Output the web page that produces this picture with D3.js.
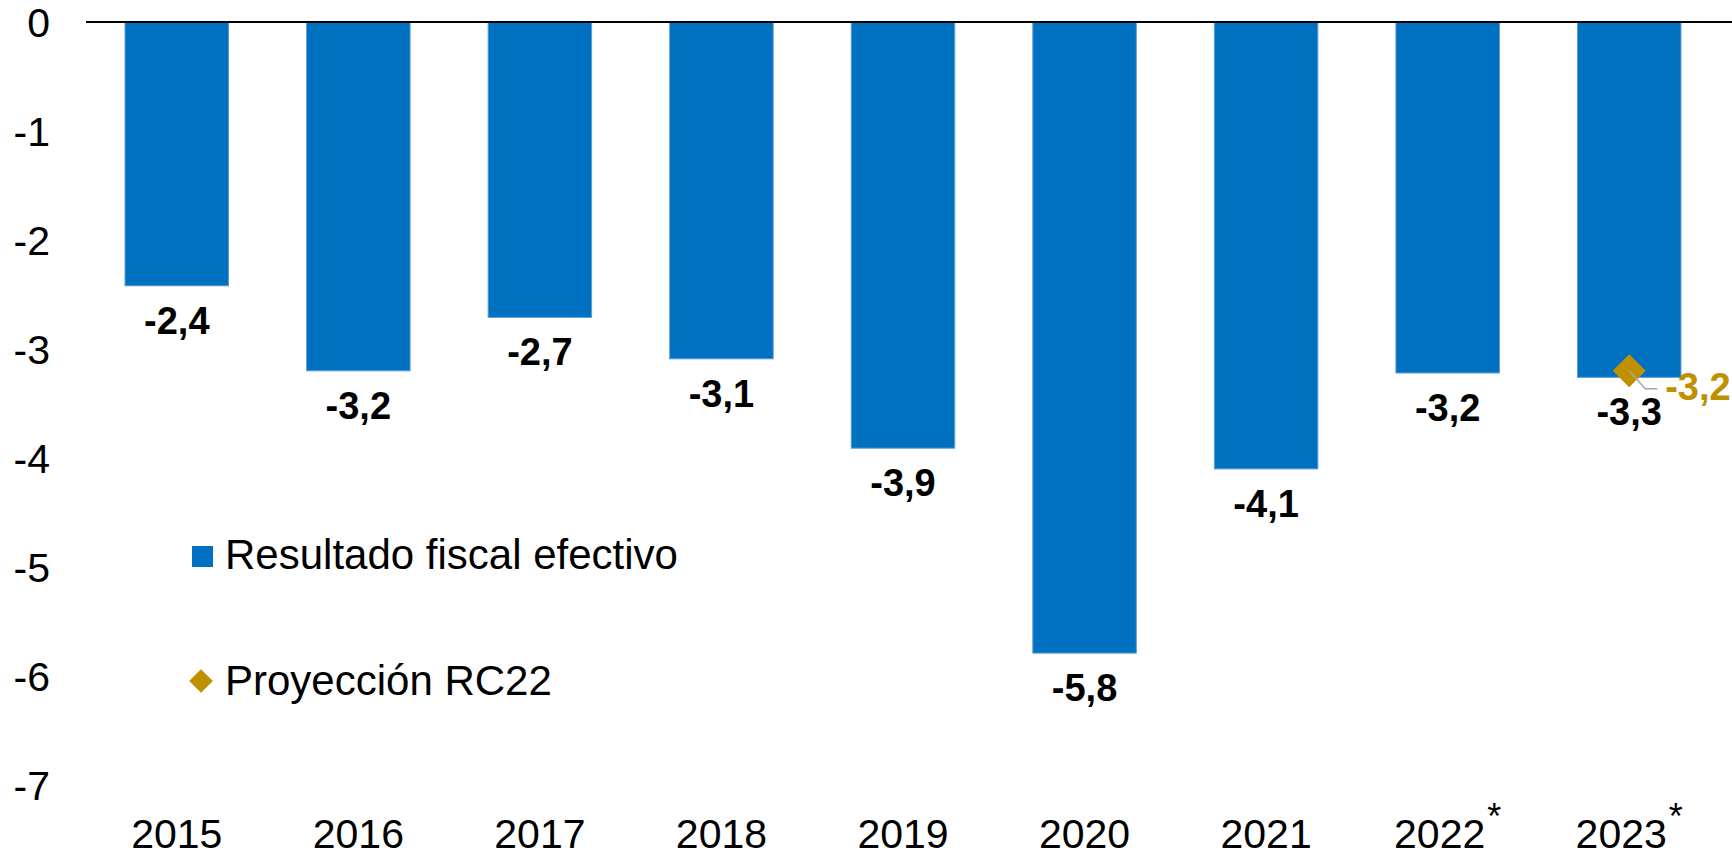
<!DOCTYPE html>
<html>
<head>
<meta charset="utf-8">
<script src="https://cdn.jsdelivr.net/npm/d3@7"></script>
<style>
	body { margin:0; background:#ffffff; }
	svg { display:block; font-family:'Liberation Sans', Arial, sans-serif; }
</style>
</head>
<body>
<div id="chart"></div>
<script>
	// Data
	var years = ['2015','2016','2017','2018','2019','2020','2021','2022','2023'];
	var yearNotes = ['','','','','','','','*','*'];
	var resultado = [-2.42,-3.20,-2.71,-3.09,-3.91,-5.79,-4.10,-3.22,-3.26];
	var proyeccionYears = ['2023'];
	var proyeccion = [-3.2];
	var yTicks = [0,-1,-2,-3,-4,-5,-6,-7];
	var legendLabels = ['Resultado fiscal efectivo','Proyección RC22'];

	var BLUE = '#0070C0';
	var GOLD = '#BF9000';

	var width = 1732;
	var height = 857;

	// comma as decimal separator
	var fmt = function(v){ return d3.format('.1f')(v).replace('\u2212','-').replace('.',','); };

	var svg = d3.select('#chart')
		.append('svg')
		.attr('width',width)
		.attr('height',height);

	// -----------------------------------------------------------------
	// Scales
	var x = d3.scaleBand()
		.domain(years)
		.range([86,1720])
		.paddingInner(0.43)
		.paddingOuter(0.215);

	var y = d3.scaleLinear()
		.domain([-7,0])
		.range([785,22]);

	// -----------------------------------------------------------------
	// Y axis (labels only)
	var yAxis = svg.append('g')
		.attr('class','yaxis')
		.attr('transform','translate(50,0)')
		.call(d3.axisLeft(y)
			.tickValues(yTicks)
			.tickSize(0)
			.tickPadding(0)
			.tickFormat(function(d){ return String(d); })
		);
	yAxis.select('.domain').remove();
	yAxis.selectAll('text')
		.attr('x',0)
		.attr('dy','0.35em')
		.attr('font-size',41)
		.attr('font-family','Liberation Sans, Arial, sans-serif')
		.attr('fill','#000000');

	// Bars
	svg.append('g')
		.attr('class','bars')
		.selectAll('rect')
		.data(resultado)
		.enter()
		.append('rect')
		.attr('x',function(d,i){ return x(years[i]); })
		.attr('y',y(0))
		.attr('width',x.bandwidth())
		.attr('height',function(d){ return y(d) - y(0); })
		.attr('fill',BLUE)
		.attr('stroke','#5B9BD5')
		.attr('stroke-width',1);

	// Zero line
	svg.append('line')
		.attr('x1',86)
		.attr('x2',width)
		.attr('y1',y(0))
		.attr('y2',y(0))
		.attr('stroke','#000000')
		.attr('stroke-width',2);

	// Bar value labels
	svg.append('g')
		.attr('class','barLabels')
		.selectAll('text')
		.data(resultado)
		.enter()
		.append('text')
		.attr('x',function(d,i){ return x(years[i]) + x.bandwidth()/2; })
		.attr('y',function(d){ return y(d) + 48; })
		.attr('text-anchor','middle')
		.attr('font-size',38)
		.attr('font-weight','bold')
		.attr('fill','#000000')
		.text(function(d){ return fmt(d); });

	// -----------------------------------------------------------------
	// Projection point
	var diamond = d3.symbol().type(d3.symbolSquare).size(545);
	var proj = svg.append('g').attr('class','projection');

	proj.selectAll('path.marker')
		.data(proyeccion)
		.enter()
		.append('path')
		.attr('class','marker')
		.attr('d',diamond)
		.attr('fill',GOLD)
		.attr('transform',function(d,i){
			var cx = x(proyeccionYears[i]) + x.bandwidth()/2;
			return 'translate('+cx+','+y(d)+') rotate(45)';
		});

	// leader line from marker to label
	proj.selectAll('path.leader')
		.data(proyeccion)
		.enter()
		.append('path')
		.attr('class','leader')
		.attr('d',function(d,i){
			var cx = x(proyeccionYears[i]) + x.bandwidth()/2;
			var cy = y(d);
			return d3.line()([[cx,cy],[cx+16,cy+18],[cx+28,cy+18]]);
		})
		.attr('fill','none')
		.attr('stroke','#A6A6A6')
		.attr('stroke-width',1.5);

	proj.selectAll('text')
		.data(proyeccion)
		.enter()
		.append('text')
		.attr('x',function(d,i){ return x(proyeccionYears[i]) + x.bandwidth()/2 + 36; })
		.attr('y',function(d){ return y(d) + 29; })
		.attr('font-size',38)
		.attr('font-weight','bold')
		.attr('fill',GOLD)
		.text(function(d){ return fmt(d); });

	// -----------------------------------------------------------------
	// X axis (year labels with optional note)
	var xAxis = svg.append('g')
		.attr('class','xaxis')
		.attr('transform','translate(0,848)')
		.call(d3.axisBottom(x).tickSize(0).tickPadding(0));
	xAxis.select('.domain').remove();
	xAxis.selectAll('text')
		.attr('y',0)
		.attr('dy',0)
		.attr('font-size',41)
		.attr('font-family','Liberation Sans, Arial, sans-serif')
		.attr('fill','#000000')
		.each(function(d,i){
			var note = yearNotes[years.indexOf(d)];
			if( note ){
				d3.select(this)
					.append('tspan')
					.attr('font-size',36)
					.attr('dx',2)
					.attr('dy',-19)
					.text(note);
			};
		});

	// -----------------------------------------------------------------
	// Legend
	var legend = svg.append('g').attr('class','legend');

	legend.append('rect')
		.attr('x',192)
		.attr('y',546)
		.attr('width',21)
		.attr('height',21)
		.attr('fill',BLUE);

	legend.append('path')
		.attr('d',d3.symbol().type(d3.symbolSquare).size(280))
		.attr('fill',GOLD)
		.attr('transform','translate(201,681) rotate(45)');

	legend.selectAll('text')
		.data(legendLabels)
		.enter()
		.append('text')
		.attr('x',225)
		.attr('y',function(d,i){ return i === 0 ? 569 : 695; })
		.attr('font-size',42)
		.attr('fill','#000000')
		.text(function(d){ return d; });
</script>
</body>
</html>
